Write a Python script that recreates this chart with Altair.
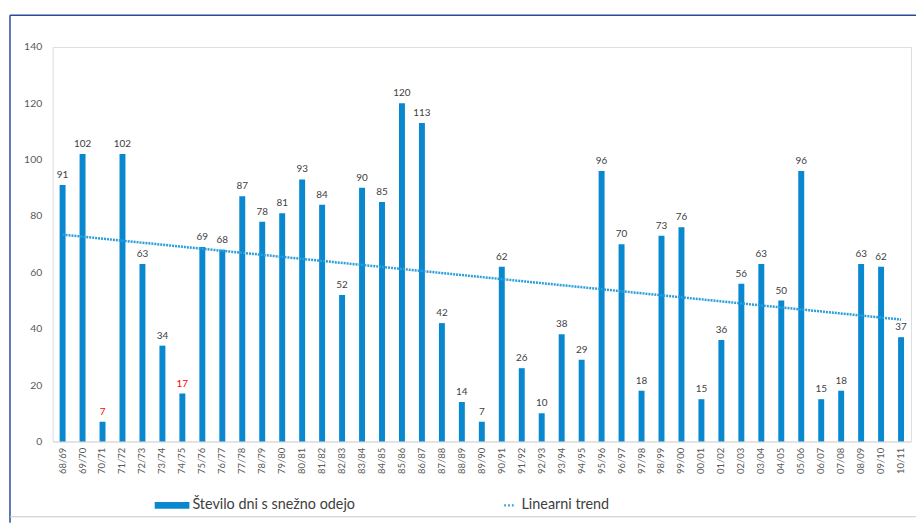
import altair as alt
import pandas as pd

seasons = ["68/69", "69/70", "70/71", "71/72", "72/73", "73/74", "74/75", "75/76",
           "76/77", "77/78", "78/79", "79/80", "80/81", "81/82", "82/83", "83/84",
           "84/85", "85/86", "86/87", "87/88", "88/89", "89/90", "90/91", "91/92",
           "92/93", "93/94", "94/95", "95/96", "96/97", "97/98", "98/99", "99/00",
           "00/01", "01/02", "02/03", "03/04", "04/05", "05/06", "06/07", "07/08",
           "08/09", "09/10", "10/11"]
days = [91, 102, 7, 102, 63, 34, 17, 69, 68, 87, 78, 81, 93, 84, 52, 90, 85, 120,
        113, 42, 14, 7, 62, 26, 10, 38, 29, 96, 70, 18, 73, 76, 15, 36, 56, 63, 50,
        96, 15, 18, 63, 62, 37]
red_seasons = ["70/71", "74/75"]
y_ticks = [0, 20, 40, 60, 80, 100, 120, 140]
bar_name = "Število dni s snežno odejo"
trend_name = "Linearni trend"

BAR = "#0a88cf"
TREND = "#2a9fda"
FONT = "Lato"

df = pd.DataFrame({"idx": list(range(len(seasons))), "season": seasons, "days": days})
records = df.to_dict("records")

x_enc = alt.X(
    "season:N",
    sort=seasons,
    scale=alt.Scale(domain=seasons, paddingInner=0, paddingOuter=0),
    axis=alt.Axis(title=None, labelAngle=-90, labelFontSize=9.5, labelColor="#595959",
                  labelFont=FONT, labelPadding=6, ticks=False, domainColor="#d9d9d9",
                  domainWidth=1, grid=False),
)
y_enc = alt.Y(
    "days:Q",
    scale=alt.Scale(domain=[0, 140]),
    axis=alt.Axis(title=None, values=y_ticks, labelFontSize=10.5, labelColor="#595959",
                  labelFont=FONT, labelPadding=11, ticks=False, domain=False, grid=False),
)

base = alt.Chart(df)

bars = base.mark_bar(size=6, color=BAR).encode(x=x_enc, y=y_enc)

labels = base.mark_text(baseline="bottom", dy=-5, fontSize=10, font=FONT).encode(
    x=alt.X("season:N", sort=seasons),
    y=alt.Y("days:Q"),
    text=alt.Text("days:Q"),
    color=alt.condition(
        alt.FieldOneOfPredicate(field="season", oneOf=red_seasons),
        alt.value("#ff0000"),
        alt.value("#404040"),
    ),
)

trend = (
    base.transform_regression("idx", "days", method="linear")
    .transform_lookup(
        lookup="idx",
        from_=alt.LookupData(data=alt.InlineData(values=records), key="idx", fields=["season"]),
    )
    .mark_line(color=TREND, strokeWidth=2.5, strokeDash=[2, 1])
    .encode(x=alt.X("season:N", sort=seasons), y=alt.Y("days:Q"))
)

# legend symbols: a 35x7 bar and three small dots at the right end of the slot
bar_path = "M-1,-0.2H1V0.2H-1Z"
dots_path = ("M0.18,-0.07h0.1v0.14h-0.1Z M0.4,-0.07h0.1v0.14h-0.1Z "
             "M0.62,-0.07h0.1v0.14h-0.1Z")

leg = alt.Legend(title=None, orient="none", legendX=103, legendY=445, direction="horizontal",
                 symbolSize=1225, labelFontSize=14.5, labelColor="#404040", labelFont=FONT,
                 labelOffset=3, labelLimit=400, columnPadding=129, symbolStrokeWidth=0,
                 symbolOpacity=1)

legend_df = pd.DataFrame({"series": [bar_name, trend_name]})
legend_layer = alt.Chart(legend_df).mark_point(filled=True).encode(
    x=alt.value(-600),
    y=alt.value(-600),
    color=alt.Color("series:N", sort=[bar_name, trend_name],
                    scale=alt.Scale(domain=[bar_name, trend_name], range=[BAR, TREND]),
                    legend=leg),
    shape=alt.Shape("series:N", sort=[bar_name, trend_name],
                    scale=alt.Scale(domain=[bar_name, trend_name], range=[bar_path, dots_path]),
                    legend=leg),
)

frame_df = pd.DataFrame({"k": [0]})
frame_left = alt.Chart(frame_df).mark_rule(color="#2b4a9c", strokeWidth=1.5).encode(
    x=alt.value(-43), y=alt.value(-32), y2=alt.value(480))
frame_top = alt.Chart(frame_df).mark_rule(color="#2b4a9c", strokeWidth=1.5).encode(
    x=alt.value(-43), x2=alt.value(880), y=alt.value(-32))
frame_bottom = alt.Chart(frame_df).mark_rule(color="#c8c8c8", strokeWidth=1).encode(
    x=alt.value(-43), x2=alt.value(880), y=alt.value(474))

chart = (
    alt.layer(bars, trend, labels, legend_layer, frame_left, frame_top, frame_bottom)
    .properties(width=866, height=398,
                padding={"left": 45, "top": 37, "right": 5, "bottom": 81},
                autosize=alt.AutoSizeParams(type="none"))
    .configure_view(stroke=None)
    .configure(background="white")
)

chart.save("out.html", embed_options={"renderer": "svg", "actions": False})
